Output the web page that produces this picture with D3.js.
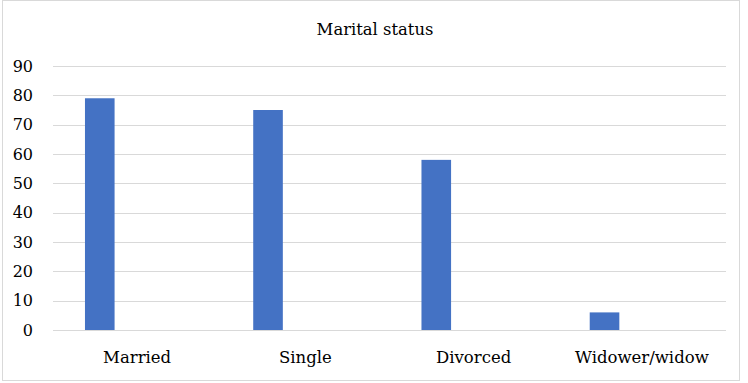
<!DOCTYPE html>
<html>
<head>
<meta charset="utf-8">
<script src="https://cdn.jsdelivr.net/npm/d3@7"></script>
<style>
  body { margin: 0; background: #fff; }
</style>
</head>
<body>
<div id="chart"></div>
<script>
const categories = ["Married", "Single", "Divorced", "Widower/widow"];
const values = [79, 75, 58, 6];
const yTicks = [0, 10, 20, 30, 40, 50, 60, 70, 80, 90];

const width = 748, height = 383;
const margin = { top: 66, right: 22, bottom: 53, left: 53 };
const serif = "'DejaVu Serif', serif";

const svg = d3.select("#chart").append("svg")
  .attr("width", width)
  .attr("height", height)
  .attr("font-family", serif);

// outer frame
svg.append("rect")
  .attr("x", 2.5).attr("y", 0.5)
  .attr("width", 737).attr("height", 380)
  .attr("fill", "#fff")
  .attr("stroke", "#d9d9d9");

const x = d3.scaleBand()
  .domain(categories)
  .range([margin.left, width - margin.right])
  .padding(0);

const y = d3.scaleLinear()
  .domain([0, 90])
  .range([height - margin.bottom, margin.top]);

// gridlines
svg.append("g")
  .selectAll("line")
  .data(yTicks)
  .enter().append("line")
  .attr("x1", margin.left)
  .attr("x2", width - margin.right)
  .attr("y1", d => Math.round(y(d)) + 0.5)
  .attr("y2", d => Math.round(y(d)) + 0.5)
  .attr("stroke", "#d9d9d9")
  .attr("stroke-width", 1);

// y labels
svg.append("g")
  .selectAll("text")
  .data(yTicks)
  .enter().append("text")
  .attr("x", 33)
  .attr("y", d => y(d))
  .attr("dy", "0.35em")
  .attr("text-anchor", "end")
  .attr("font-size", 16)
  .text(d => d);

// bars
svg.append("g")
  .selectAll("rect")
  .data(values)
  .enter().append("rect")
  .attr("x", (d, i) => x(categories[i]) + x.bandwidth() * 0.19)
  .attr("width", x.bandwidth() * 0.176)
  .attr("y", d => y(d))
  .attr("height", d => y(0) - y(d))
  .attr("fill", "#4472c4");

// category labels
svg.append("g")
  .selectAll("text")
  .data(categories)
  .enter().append("text")
  .attr("x", d => x(d) + x.bandwidth() / 2)
  .attr("y", 363)
  .attr("text-anchor", "middle")
  .attr("font-size", 16.5)
  .text(d => d);

// title
svg.append("text")
  .attr("x", 375)
  .attr("y", 35)
  .attr("text-anchor", "middle")
  .attr("font-size", 16.4)
  .text("Marital status");
</script>
</body>
</html>
